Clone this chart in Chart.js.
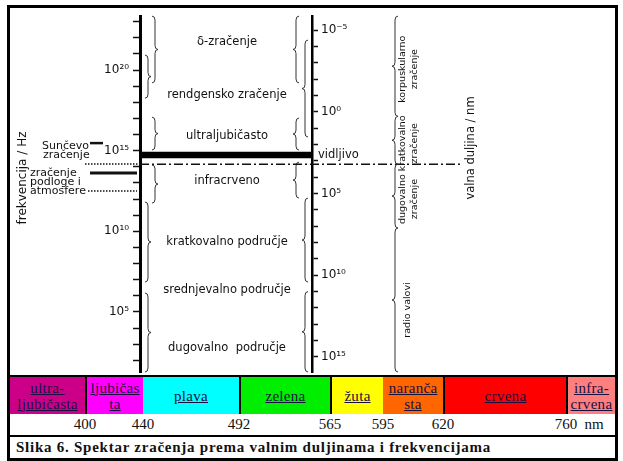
<!DOCTYPE html>
<html>
<head>
<meta charset="utf-8">
<script src="https://cdn.jsdelivr.net/npm/chart.js@4.4.1/dist/chart.umd.min.js"></script>
<style>
body { margin: 0; background: #fff; }
#frame { position: absolute; left: 7px; top: 5px; width: 611px; height: 456px; border: 3px solid #000; box-sizing: border-box; }
#plot { position: absolute; left: 0; top: 0; }
#band { position: absolute; left: 0; top: 367px; width: 605px; height: 39px; border-top: 2px solid #000; box-sizing: border-box; display: flex; }
#band div { box-sizing: border-box; height: 37px; display: flex; align-items: center; justify-content: center; text-align: center;
  font: 15px "Liberation Serif", serif; line-height: 16px; color: #1a1040; text-decoration: underline; letter-spacing: 0.3px; }
#nums { position: absolute; left: 0; top: 406px; width: 605px; height: 21px; border-bottom: 2px solid #000; box-sizing: content-box; }
#nums span { position: absolute; top: 2px; font: 15px "Liberation Serif", serif; color: #111; transform: translateX(-50%); }
#caption { position: absolute; left: 6px; top: 431px; font: bold 15px "Liberation Serif", serif; letter-spacing: 0.75px; color: #111; }
</style>
</head>
<body>
<div id="frame">
  <canvas id="plot" width="605" height="367"></canvas>
  <div id="band"></div>
  <div id="nums"></div>
  <div id="caption">Slika 6. Spektar zračenja prema valnim duljinama i frekvencijama</div>
</div>
<script>
// axis ranges (powers of ten)
const freqRangeExp = [1.28, 23.35];
const waveRangeExp = [-5.86, 15.92];
const freqTickExp = [2, 3, 4, 5, 6, 7, 8, 9, 10, 11, 12, 13, 14, 15, 16, 17, 18, 19, 20, 21, 22, 23];
const waveTickExp = [-5, -4, -3, -2, -1, 0, 1, 2, 3, 4, 5, 6, 7, 8, 9, 10, 11, 12, 13, 14, 15];

// visible light band, Hz
const visibleHz = [3.5e14, 8.2e14];

// regions between the two axes
const regionNames = ['δ-zračenje', 'rendgensko zračenje', 'ultraljubičasto', 'infracrveno',
  'kratkovalno područje', 'srednjevalno područje', 'dugovalno  područje'];
const regionLabelHz = [5.5e21, 2.8e18, 8.1e15, 1.3e13, 2.2e9, 2.3e6, 5.9e2];
const leftBraceHz = [[1.6e19, 2.2e23], [1.8e18, 8.5e20], [1.1e15, 1.2e17], [5.6e11, 1.3e14], [7.2e6, 6.6e11], [1.9e1, 1.5e6]];
const rightBraceNm = [[1.4e-6, 1.7e-2], [4.1e-5, 35], [2.4, 220], [1.2e3, 1.9e5], [1.9e5, 2.6e10], [1.0e11, 8.3e15]];
const braceLane = [1, 0, 1, 1, 0, 0];

// groups on the wavelength side, nm
const groupNames = [['korpuskularno', 'zračenje'], ['kratkovalno', 'zračenje'], ['dugovalno', 'zračenje'], ['radio valovi']];
const groupNm = [[1.4e-6, 1.9], [1.9, 1.6e3], [1.6e3, 1.3e7], [1.3e7, 8.3e15]];
const boundaryNm = 1.6e3;

// solar and terrestrial radiation, Hz
const sunHz = [1.5e14, 2.95e15];
const earthHz = [3.2e12, 4.1e13];

// colour band
const bandNames = ['ultra-\nljubičasta', 'ljubičas\nta', 'plava', 'zelena', 'žuta', 'naranča\nsta', 'crvena', 'infra-\ncrvena'];
const bandColors = ['#cc0088', '#ff00ff', '#00ffff', '#00ee00', '#ffff00', '#ff6600', '#ff0000', '#ff7f7f'];
const bandEdgesNm = [400, 440, 492, 565, 595, 620, 760];

// layout of the table below the plot
const cellWidths = [75, 58, 96, 91, 53, 60, 123, 49];
const cellRule = [0, 1, 0, 1, 1, 0, 1, 1];

const band = document.getElementById('band');
const nums = document.getElementById('nums');
let acc = 0;
bandNames.forEach((n, i) => {
  const d = document.createElement('div');
  d.style.width = cellWidths[i] + 'px';
  d.style.background = bandColors[i];
  if (cellRule[i]) d.style.borderLeft = '2px solid #000';
  d.innerHTML = n.replace('\n', '<br>');
  band.appendChild(d);
  acc += cellWidths[i];
  if (i < bandEdgesNm.length) {
    const s = document.createElement('span');
    s.textContent = bandEdgesNm[i];
    s.style.left = acc + 'px';
    nums.appendChild(s);
  }
});
const nm = document.createElement('span');
nm.textContent = 'nm';
nm.style.left = '584px';
nums.appendChild(nm);

const SUP = { '-': '⁻', '0': '⁰', '1': '¹', '2': '²', '3': '³', '4': '⁴', '5': '⁵', '6': '⁶', '7': '⁷', '8': '⁸', '9': '⁹' };
function pow10(v) {
  const e = Math.round(Math.log10(v));
  if (e % 5 !== 0) return '';
  return '10' + String(e).split('').map(c => SUP[c]).join('');
}

function brace(ctx, x, y1, y2, dir, w) {
  const ym = (y1 + y2) / 2;
  const r = Math.min(4, (y2 - y1) / 4);
  const xb = x + dir * w / 2, xc = x + dir * w;
  ctx.beginPath();
  ctx.moveTo(x, y1);
  ctx.quadraticCurveTo(xb, y1, xb, y1 + r);
  ctx.lineTo(xb, ym - r);
  ctx.quadraticCurveTo(xb, ym, xc, ym);
  ctx.quadraticCurveTo(xb, ym, xb, ym + r);
  ctx.lineTo(xb, y2 - r);
  ctx.quadraticCurveTo(xb, y2, x, y2);
  ctx.stroke();
}

function vtext(ctx, s, x, y) {
  ctx.save();
  ctx.translate(x, y);
  ctx.rotate(-Math.PI / 2);
  ctx.fillText(s, 0, 0);
  ctx.restore();
}

const diagram = {
  id: 'diagram',
  afterDatasetsDraw(chart) {
    const ctx = chart.ctx, a = chart.chartArea;
    const yF = v => chart.scales.yF.getPixelForValue(v);
    const yW = v => chart.scales.yW.getPixelForValue(v);
    const L = a.left, R = a.right, T = a.top, B = a.bottom;
    const cy = y => Math.max(T, Math.min(B, y));
    ctx.save();
    ctx.strokeStyle = '#333';
    ctx.fillStyle = '#111';
    ctx.lineWidth = 1;

    leftBraceHz.forEach((r, i) => {
      brace(ctx, L + (braceLane[i] ? 12 : 5), cy(yF(r[1])), cy(yF(r[0])), 1, 6);
    });
    rightBraceNm.forEach((r, i) => {
      brace(ctx, R - (braceLane[i] ? 13 : 4), cy(yW(r[0])), cy(yW(r[1])), -1, 6);
    });

    ctx.font = '11.5px "DejaVu Sans"';
    ctx.textAlign = 'center';
    ctx.textBaseline = 'middle';
    regionNames.forEach((n, i) => ctx.fillText(n, (L + R) / 2 + 1, yF(regionLabelHz[i])));

    ctx.textAlign = 'left';
    ctx.fillText('vidljivo', R + 6, (yF(visibleHz[0]) + yF(visibleHz[1])) / 2);

    // boundary kratkovalno / dugovalno
    const yb = yW(boundaryNm);
    ctx.strokeStyle = '#111';
    ctx.lineWidth = 1.5;
    ctx.setLineDash([9, 3, 2, 3]);
    ctx.beginPath(); ctx.moveTo(L, yb); ctx.lineTo(R + 151, yb); ctx.stroke();

    // Sunčevo zračenje
    const sTop = yF(sunHz[1]), sBot = yF(sunHz[0]);
    ctx.setLineDash([1.5, 1.5]);
    ctx.beginPath(); ctx.moveTo(L - 55, sBot); ctx.lineTo(L, sBot); ctx.stroke();
    ctx.setLineDash([]);
    ctx.lineWidth = 2.5;
    ctx.beginPath(); ctx.moveTo(L - 50, sTop); ctx.lineTo(L - 37, sTop); ctx.stroke();
    ctx.font = '11px "DejaVu Sans"';
    ctx.fillText('Sunčevo', L - 98, sTop + 3);
    ctx.fillText('zračenje', L - 97, sTop + 12);

    // zračenje podloge i atmosfere
    const eTop = yF(earthHz[1]), eBot = yF(earthHz[0]);
    ctx.lineWidth = 3;
    ctx.beginPath(); ctx.moveTo(L - 50, eTop); ctx.lineTo(L - 3, eTop); ctx.stroke();
    ctx.lineWidth = 1.5;
    ctx.setLineDash([1.5, 1.5]);
    ctx.beginPath(); ctx.moveTo(L - 52, eBot); ctx.lineTo(L - 3, eBot); ctx.stroke();
    ctx.setLineDash([]);
    ctx.fillText('zračenje', L - 110, eTop);
    ctx.fillText('podloge i', L - 110, eTop + 9);
    ctx.fillText('atmosfere', L - 110, eBot);

    // groups by wavelength
    ctx.lineWidth = 1;
    ctx.strokeStyle = '#333';
    ctx.textAlign = 'center';
    ctx.font = '9.5px "DejaVu Sans"';
    groupNm.forEach((r, i) => {
      const y1 = cy(yW(r[0])), y2 = cy(yW(r[1]));
      brace(ctx, R + 86, y1, y2, -1, 6);
      const names = groupNames[i];
      if (names.length === 2) {
        vtext(ctx, names[0], R + 91, (y1 + y2) / 2 + 3);
        vtext(ctx, names[1], R + 103, (y1 + y2) / 2 + 3);
      } else {
        vtext(ctx, names[0], R + 96, (y1 + y2) / 2 + 10);
      }
    });

    // axis titles
    ctx.font = '11.5px "DejaVu Sans"';
    vtext(ctx, 'valna duljina / nm', R + 159, T + 132);
    ctx.font = '12px "DejaVu Sans"';
    vtext(ctx, 'frekvencija / Hz', 13, T + 162);
    ctx.restore();
  }
};

new Chart(document.getElementById('plot'), {
  type: 'bar',
  data: {
    labels: ['vidljivo'],
    datasets: [{
      data: [visibleHz],
      yAxisID: 'yF',
      backgroundColor: '#000',
      barPercentage: 1,
      categoryPercentage: 1
    }]
  },
  options: {
    responsive: false,
    animation: false,
    devicePixelRatio: 1,
    layout: { padding: { left: 90, right: 263, top: 8, bottom: 3 } },
    plugins: { legend: { display: false }, tooltip: { enabled: false } },
    scales: {
      x: { type: 'category', display: false },
      yF: {
        type: 'logarithmic',
        position: 'left',
        min: Math.pow(10, freqRangeExp[0]),
        max: Math.pow(10, freqRangeExp[1]),
        afterBuildTicks: s => { s.ticks = freqTickExp.map(e => ({ value: Math.pow(10, e) })); },
        afterFit: s => { s.width = 40; s.paddingTop = 0; s.paddingBottom = 0; },
        ticks: { callback: v => pow10(v), autoSkip: false, color: '#111', padding: 4, font: { family: 'DejaVu Sans', size: 12 } },
        grid: { drawOnChartArea: false, tickLength: 7, tickWidth: 1.5, color: '#111' },
        border: { display: true, width: 3, color: '#000' }
      },
      yW: {
        type: 'logarithmic',
        position: 'right',
        reverse: true,
        min: Math.pow(10, waveRangeExp[0]),
        max: Math.pow(10, waveRangeExp[1]),
        afterBuildTicks: s => { s.ticks = waveTickExp.map(e => ({ value: Math.pow(10, e) })); },
        afterFit: s => { s.width = 40; s.paddingTop = 0; s.paddingBottom = 0; },
        ticks: { callback: v => pow10(v), autoSkip: false, color: '#111', padding: 3, font: { family: 'DejaVu Sans', size: 12 } },
        grid: { drawOnChartArea: false, tickLength: 6, tickWidth: 1.5, color: '#111' },
        border: { display: true, width: 2.5, color: '#000' }
      }
    }
  },
  plugins: [diagram]
});
</script>
</body>
</html>
